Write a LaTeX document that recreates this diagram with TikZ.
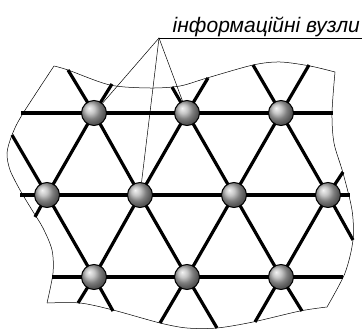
\documentclass[tikz,border=0pt]{standalone}
\usepackage{fontspec}
\setmainfont{Liberation Sans}
\usetikzlibrary{backgrounds}

\begin{document}
\begin{tikzpicture}[x=1pt,y=-1pt,
    knot/.style={circle,draw=black,line width=1pt,inner sep=0pt,minimum size=25pt,shading=ball,ball color=gray!60},
    bar/.style={line width=3.2pt,black},
    edge/.style={line width=0.5pt,black},
    leader/.style={line width=0.5pt,black}]
    \useasboundingbox (0,0) rectangle (362,329);

    % Nodes
    \node[knot] (n11) at (94,113) {};
    \node[knot] (n12) at (187,113) {};
    \node[knot] (n13) at (281,113) {};
    \node[knot] (n21) at (47,195) {};
    \node[knot] (n22) at (140,195) {};
    \node[knot] (n23) at (234,195) {};
    \node[knot] (n24) at (328,195) {};
    \node[knot] (n31) at (94,277) {};
    \node[knot] (n32) at (187,277) {};
    \node[knot] (n33) at (281,277) {};

    % Free ends
    \coordinate (t1) at (68,70);   \coordinate (t2) at (112,84);
    \coordinate (t3) at (172,87);  \coordinate (t4) at (208,78);
    \coordinate (t5) at (253,65);  \coordinate (t6) at (309,65);
    \coordinate (h1l) at (21,113); \coordinate (h1r) at (333,113);
    \coordinate (h2l) at (20,195); \coordinate (h2r) at (350,195);
    \coordinate (h3l) at (52,277); \coordinate (h3r) at (343,277);
    \coordinate (l1) at (12,135);  \coordinate (l2) at (35,217);
    \coordinate (r1) at (343,172); \coordinate (r2) at (353,240);
    \coordinate (b1) at (78,303);  \coordinate (b2) at (113,311);
    \coordinate (b3) at (160,323); \coordinate (b4) at (217,328);
    \coordinate (b5) at (255,322); \coordinate (b6) at (302,311);

    % Lattice
    \begin{pgfonlayer}{background}
        \draw[bar] (h1l) -- (n11.center) -- (n12.center) -- (n13.center) -- (h1r);
        \draw[bar] (h2l) -- (n21.center) -- (n22.center) -- (n23.center) -- (n24.center) -- (h2r);
        \draw[bar] (h3l) -- (n31.center) -- (n32.center) -- (n33.center) -- (h3r);

        \draw[bar] (l1) -- (n21.center) -- (n31.center) -- (b2);
        \draw[bar] (t1) -- (n11.center) -- (n22.center) -- (n32.center) -- (b4);
        \draw[bar] (t3) -- (n12.center) -- (n23.center) -- (n33.center) -- (b6);
        \draw[bar] (t5) -- (n13.center) -- (n24.center) -- (r2);

        \draw[bar] (t2) -- (n11.center) -- (n21.center) -- (l2);
        \draw[bar] (t4) -- (n12.center) -- (n22.center) -- (n31.center) -- (b1);
        \draw[bar] (t6) -- (n13.center) -- (n23.center) -- (n32.center) -- (b3);
        \draw[bar] (r1) -- (n24.center) -- (n33.center) -- (b5);
    \end{pgfonlayer}

    % Cut outline
    \draw[edge] plot[smooth] coordinates {(54,66) (68,70) (110,85) (150,88) (180,86) (207,78) (253,65) (280,62) (310,66) (335,72)};
    \draw[edge] plot[smooth] coordinates {(335,72) (332,113) (334,143) (343,173) (352,210) (353,240) (345,273) (327,307)};
    \draw[edge] plot[smooth] coordinates {(327,307) (300,311) (253,322) (217,328) (187,328) (160,323) (113,310) (80,303) (47,303)};
    \draw[edge] plot[smooth] coordinates {(47,303) (53,273) (52,250) (43,228) (32,210) (20,190) (10,170) (7,153) (12,135) (22,115) (54,66)};

    % Label
    \coordinate (apex) at (159,38);
    \coordinate (uend) at (362,38);
    \node[anchor=base east, inner sep=0pt, font=\fontsize{21}{21}\selectfont\itshape] (lbl) at (360,33) {інформаційні вузли};
    \draw[leader] (uend) -- (apex);
    \draw[leader] (n11) -- (apex) -- (n12);
    \draw[leader] (apex) -- (n22);
\end{tikzpicture}
\end{document}
